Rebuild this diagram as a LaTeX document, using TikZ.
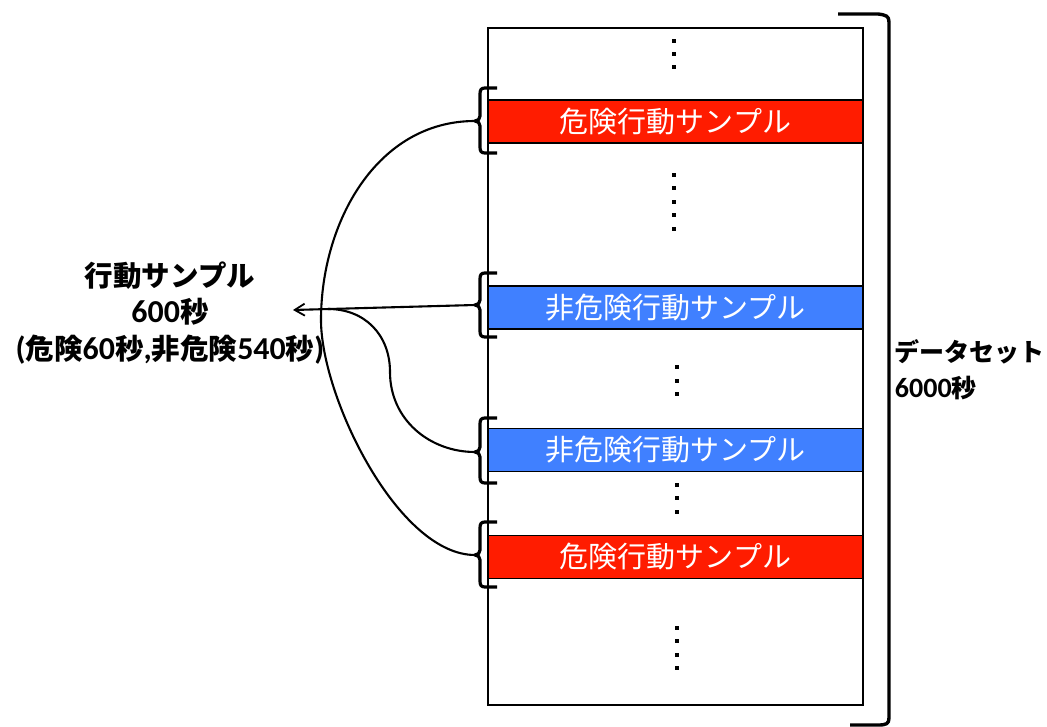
\documentclass[tikz,border=0pt]{standalone}
\usepackage{fontspec}
\setmainfont[Scale=1.12]{Carlito}
\newfontfamily\cjk{Noto Sans CJK JP}
\newcommand\J[1]{{\cjk #1}}
\usetikzlibrary{arrows.meta}
\definecolor{dangerred}{RGB}{255,28,0}
\definecolor{safeblue}{RGB}{64,128,255}
\tikzset{
  bar/.style={draw=black, line width=1.6pt, minimum width=375pt, minimum height=43pt, inner sep=0pt, text=white, font=\cjk\fontsize{29}{30}\selectfont},
  redbar/.style={bar, fill=dangerred},
  bluebar/.style={bar, fill=safeblue},
  dotsq/.style={fill=black, inner sep=0pt, minimum size=4pt, rectangle},
  brk/.style={line width=3.2pt, line join=round},
  conn/.style={line width=2.1pt},
  lbl/.style={font=\bfseries\fontsize{28.5}{36.5}\selectfont, align=center},
  rlbl/.style={font=\bfseries\fontsize{25}{36}\selectfont, align=left, anchor=west}
}
\newcommand\brkt[4]{% top, mid, bottom, name
  \draw[brk] (497,#1) -- (485,#1) .. controls (481,#1) and (480,#1+2) .. (480,#1+6)
    -- (480,#2-5) .. controls (480,#2-2) and (478,#2) .. (475,#2)
    .. controls (478,#2) and (480,#2+2) .. (480,#2+5)
    -- (480,#3-6) .. controls (480,#3-2) and (481,#3) .. (485,#3) -- (497,#3);
  \coordinate (#4) at (475,#2);
}
\begin{document}
\begin{tikzpicture}[x=1pt,y=-1pt]
\useasboundingbox (0,0) rectangle (1047,727);
% dataset column
\draw[line width=1.4pt] (488,28) rectangle (863,705);
\node[redbar] (r1) at (675.5,121.5) {危険行動サンプル};
\node[bluebar] (b1) at (675.5,307.5) {非危険行動サンプル};
\node[bluebar] (b2) at (675.5,450) {非危険行動サンプル};
\node[redbar] (r2) at (675.5,557) {危険行動サンプル};
% dots
\foreach \y in {41,54,67,175,188,202,215,229} \node[dotsq] at (674,\y) {};
\foreach \y in {367,381,394,485,498,512,628,641,655,668} \node[dotsq] at (677,\y) {};
% brackets
\brkt{88}{121}{153}{tr1}
\brkt{273}{305}{337}{tb1}
\brkt{418}{452}{483}{tb2}
\brkt{522}{555}{587}{tr2}
% right bracket
\draw[line width=3.4pt, line join=round] (838,14) -- (878,14) .. controls (886,15) and (889,16) .. (889,22) -- (889,718) .. controls (889,724) and (886,725) .. (878,725) -- (850,725);
% connectors
\coordinate (ah) at (293,310);
\coordinate (sp) at (328,309);
\draw[conn, -{Straight Barb[length=10pt,width=12pt,line width=1.8pt]}] (tb1) -- (ah);
\draw[conn] (tr1) .. controls (377,121) and (321,222) .. (321,320) .. controls (321,397) and (398,555) .. (tr2);
\draw[conn] (sp) .. controls (365,309) and (390,335) .. (390,372) .. controls (390,420) and (430,452) .. (tb2);
% labels
\node[lbl] (ls) at (170,313) {\J{行動サンプル}\\600\J{秒}\\(\J{危険}60\J{秒},\J{非危険}540\J{秒})};
\node[rlbl] (rs) at (891,370) {\J{データセット}\\6000\J{秒}};
\end{tikzpicture}
\end{document}
